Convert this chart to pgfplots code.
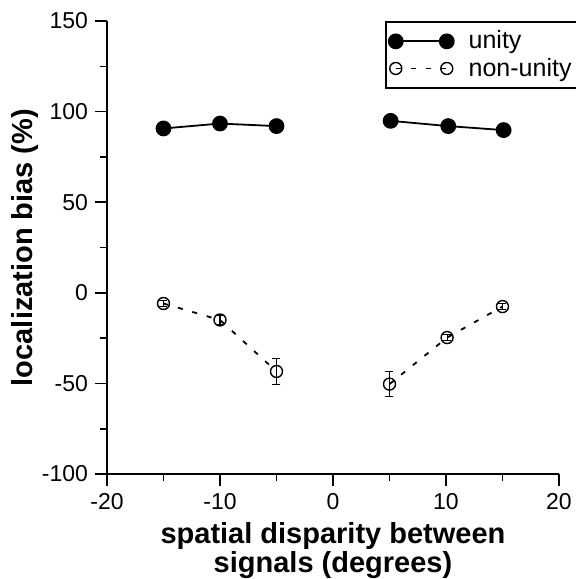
\documentclass[border=0pt]{standalone}
\usepackage{pgfplots}
\pgfplotsset{compat=1.18}
\usepackage{fontspec}
\setmainfont{Liberation Sans}
\begin{document}
\begin{tikzpicture}
\useasboundingbox (-53.5pt,-52.5pt) rectangle (234pt,237pt);
\begin{axis}[
  scale only axis, width=226pt, height=226.5pt,
  at={(0,0)}, anchor=south west,
  xmin=-20, xmax=20, ymin=-100, ymax=150,
  axis lines=left, axis line style={-, line width=1pt},
  xtick={-20,-10,0,10,20}, ytick={-100,-50,0,50,100,150},
  minor xtick={-15,-5,5,15}, minor ytick={-75,-25,25,75,125},
  tick align=outside, major tick length=6pt, minor tick length=3.5pt,
  every tick/.style={line width=0.8pt, black},
  ticklabel style={font=\fontsize{11.5}{13}\selectfont},
  /pgf/number format/assume math mode=true,
  xlabel={spatial disparity between\\signals (degrees)},
  xlabel style={font=\bfseries\fontsize{14.5}{13.5}\selectfont, align=center,
    at={(axis description cs:0.5,0)}, yshift=-38.5pt, anchor=center},
  ylabel={localization bias (\%)},
  ylabel style={font=\bfseries\fontsize{14.5}{16}\selectfont,
    at={(axis description cs:-0.181,0.5)}, anchor=center},
  legend style={at={(1.045,1.0)}, anchor=north east, draw=black, line width=0.8pt,
    font=\fontsize{12.5}{13}\selectfont, inner ysep=2.5pt, inner xsep=1.5pt, row sep=-1pt},
  legend cell align=left,
  legend image code/.code={
    \draw[#1, mark=none] (0pt,0pt) -- (25.5pt,0pt);
    \draw[#1] plot[only marks] coordinates {(0pt,0pt) (25.5pt,0pt)};
    \path (34pt,0pt);},
]
\addlegendimage{black, line width=0.9pt, mark=*, mark size=3.5pt}
\addlegendentry{unity}
\addlegendimage{black, line width=0.9pt, dash pattern=on 2.5pt off 5pt, mark=o, mark size=3pt, mark options={solid, fill=white, line width=0.7pt}}
\addlegendentry{non-unity}
\addplot[black, line width=0.9pt, mark=*, mark size=3.5pt, forget plot] coordinates {(-15,90.7) (-10,93.4) (-5,92.0)};
\addplot[black, line width=0.9pt, dash pattern=on 2.5pt off 5pt, mark=o, mark size=3pt,
  mark options={solid, fill=white, line width=0.7pt}, forget plot,
  error bars/.cd, y dir=both, y explicit,
  error bar style={solid, line width=0.6pt},
  error mark options={rotate=90, mark size=2pt, line width=0.6pt}]
  coordinates {(-15,-5.9) +- (0,1.5) (-10,-15.0) +- (0,2.5) (-5,-43.4) +- (0,7)};
\addplot[black, line width=0.9pt, mark=*, mark size=3.5pt, forget plot] coordinates {(5.1,94.9) (10.2,92.0) (15.1,89.8)};
\addplot[black, line width=0.9pt, dash pattern=on 2.5pt off 5pt, mark=o, mark size=3pt,
  mark options={solid, fill=white, line width=0.7pt}, forget plot,
  error bars/.cd, y dir=both, y explicit,
  error bar style={solid, line width=0.6pt},
  error mark options={rotate=90, mark size=2pt, line width=0.6pt}]
  coordinates {(5,-50.4) +- (0,7) (10.1,-24.7) +- (0,1.5) (15,-7.6) +- (0,1.5)};
\end{axis}
\end{tikzpicture}
\end{document}
